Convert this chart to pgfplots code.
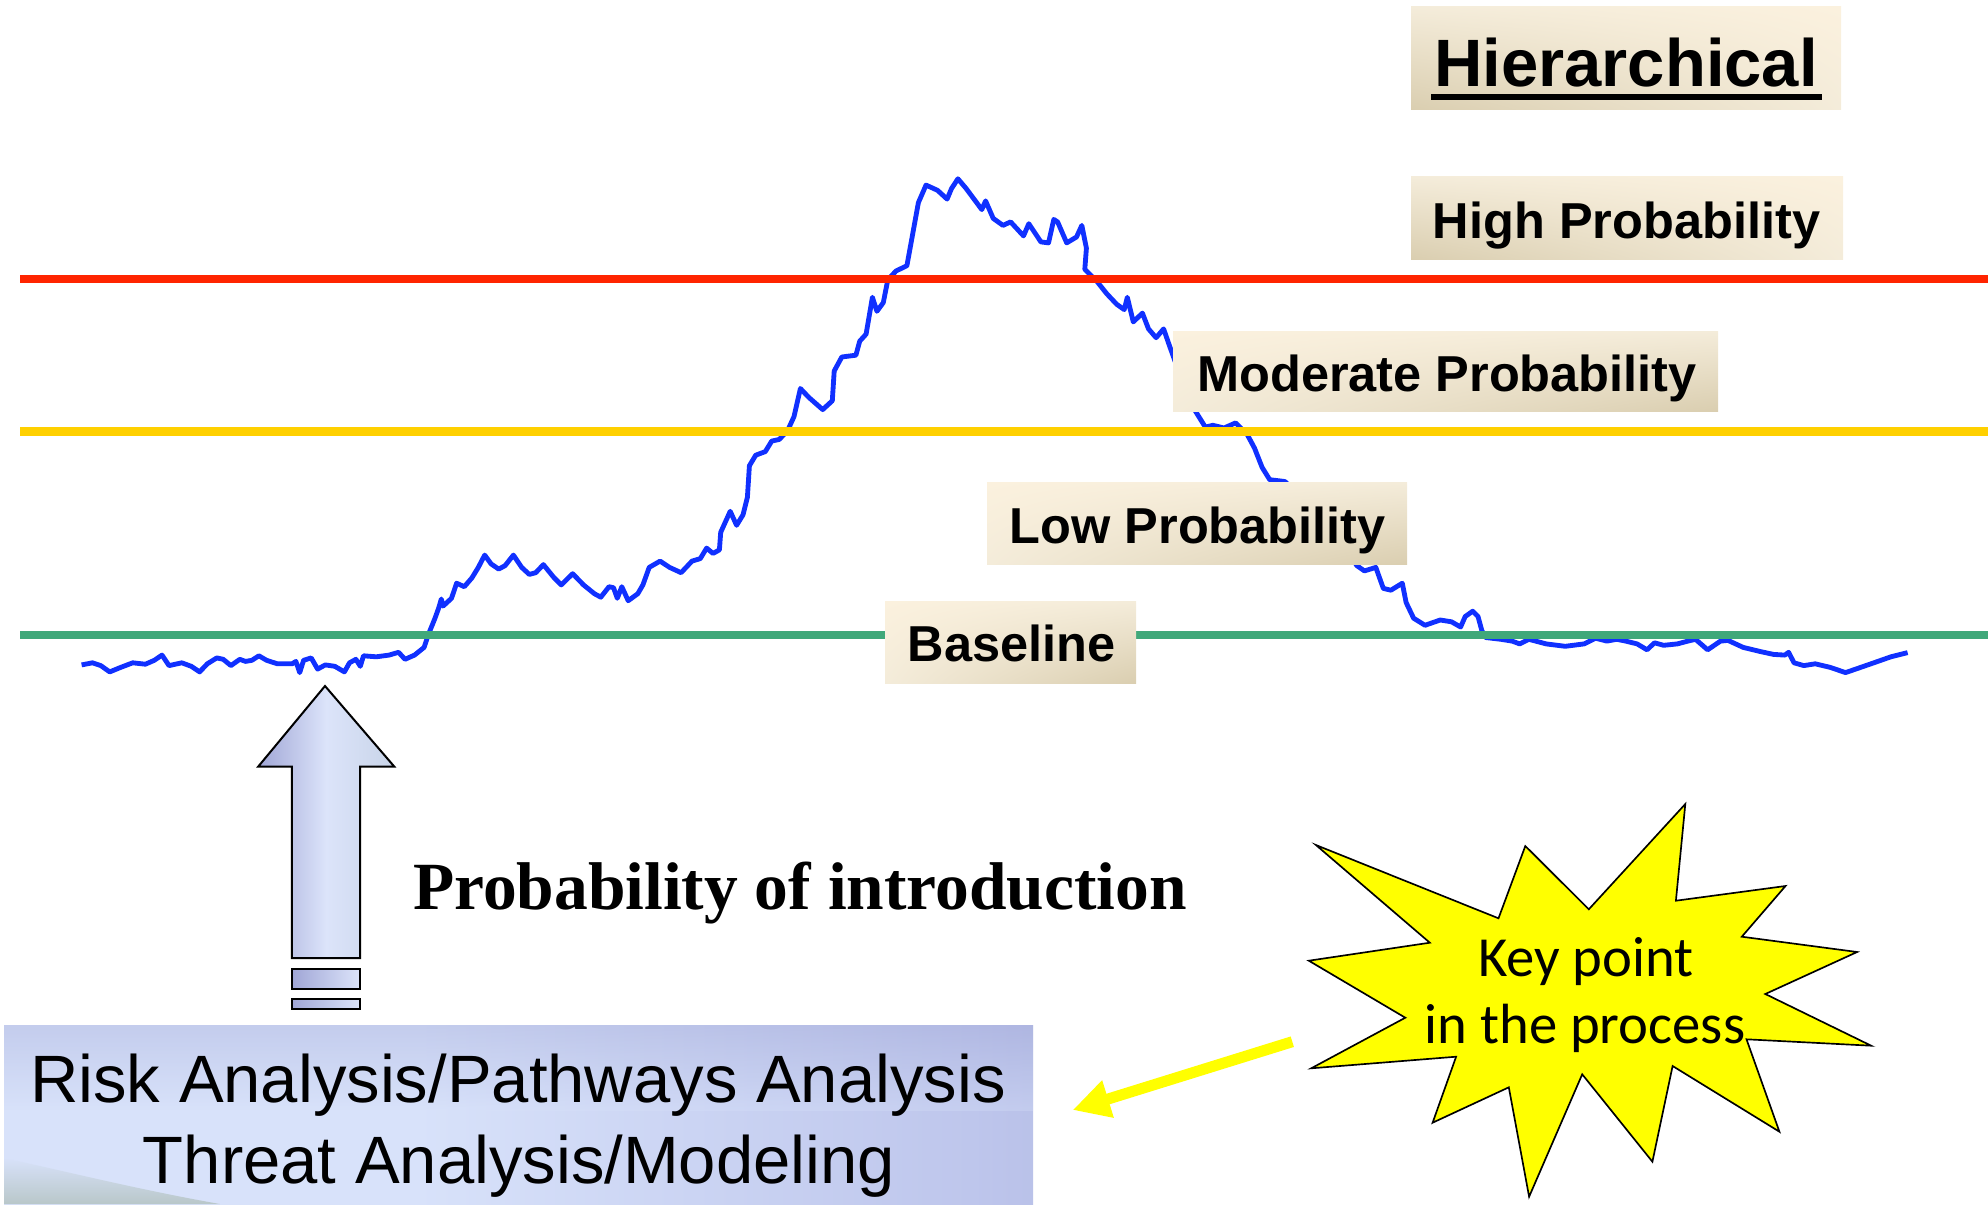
\documentclass[border=0pt]{standalone}
\usepackage{pgfplots}
\pgfplotsset{compat=1.18}
\usepackage{fontspec}
\setmainfont{Liberation Sans}
\newfontfamily\timesfont{Liberation Serif}
\newfontfamily\calibrifont{Carlito}
\usetikzlibrary{arrows.meta,shadings}

\definecolor{curveblue}{RGB}{16,48,255}
\definecolor{redline}{RGB}{255,36,0}
\definecolor{yellowline}{RGB}{255,208,0}
\definecolor{greenline}{RGB}{64,168,122}
\definecolor{burst}{RGB}{255,255,0}
\definecolor{arrowL}{RGB}{160,166,214}
\definecolor{arrowM}{RGB}{220,228,250}
\definecolor{arrowR}{RGB}{200,212,232}
\definecolor{creamL}{RGB}{251,241,222}
\definecolor{creamA}{RGB}{244,236,218}
\definecolor{creamD}{RGB}{218,206,176}
\definecolor{bbL}{RGB}{216,226,250}
\definecolor{bbM}{RGB}{190,198,236}
\definecolor{bbR}{RGB}{150,156,208}
\definecolor{bbG}{RGB}{160,178,162}

\pgfdeclarehorizontalshading{bbshade}{100bp}{color(0bp)=(bbL); color(45bp)=(bbL); color(72bp)=(bbM); color(100bp)=(bbR)}

\begin{document}
\begin{tikzpicture}
\begin{axis}[hide axis, scale only axis, width=596.4pt, height=361.2pt,
  xmin=0, xmax=1988, ymin=0, ymax=1204, y dir=reverse, clip=false]

% probability curve
\addplot[curveblue, line width=1.45pt, line join=round, mark=none] coordinates {
(81.6,664.9) (92.5,662.8) (100.8,665.6) (109.7,671.9) (119.9,667.7) (132.7,662.8) (145.4,664.2) (154.3,660.3) (162,655.1) (169,665.6) (181.8,662.8) (191.3,666.3) (199.6,671.9) (207.3,663.8) (216.8,657.9) (223.2,659.3) (230.9,665.6) (239.8,659.3) (245.5,661.4) (251.9,660.3) (258.9,655.8) (266.6,660.3) (277.4,663.8) (292.1,663.8) (295.9,661.4) (299.7,672.6) (303.6,660.3) (311.2,657.9) (317.6,669.1) (325.3,664.9) (334.8,666.3) (344.4,671.9) (349.5,662.8) (355.9,659.3) (360.3,666.3) (363.5,655.8) (376.3,656.8) (389,655.1) (398.6,652.3) (405,659.3) (414.5,655.1) (424.1,647.4) (428.6,634) (435,618.2) (438.8,607.7) (441.3,599) (443.2,606) (451.5,598.3) (456.6,583.2) (464.3,586.7) (471.9,577.9) (478.3,567.4) (484.7,555.1) (491.1,563.9) (498.7,569.1) (505.1,565.6) (513.4,555.1) (521.7,567.4) (529.3,574.4) (535.7,572.7) (543.4,564.6) (553.6,577.2) (561.2,584.9) (572.7,573.7) (583.5,584.9) (594.4,593.7) (600.8,597.2) (609,586.7) (613.5,587.7) (617.3,598.3) (621.8,586.7) (628.2,600.7) (637.8,593.7) (642.9,584.9) (649.2,567.4) (660.1,561.1) (669.6,567.4) (681.1,572.7) (692,561.1) (700.3,558.6) (706.6,548.1) (713,553.4) (719.4,549.9) (720.7,532.3) (730.2,511.3) (736.6,525.3) (743,514.8) (747.4,497.2) (749.4,465.7) (755.7,455.2) (765.3,451.6) (771.7,441.1) (779.3,439.4) (787.6,430.6) (794,416.6) (800.4,388.5) (808.7,397.3) (822.7,409.6) (832.3,400.8) (834.2,371) (841.8,357) (855.9,355.2) (859.7,341.2) (866.1,334.1) (872.4,297.3) (876.9,311.3) (883.3,302.6) (887.8,279.8) (896,271) (906.9,265.7) (912,237.7) (918.4,202.6) (926,185.1) (937.5,190.3) (947.1,199.1) (951.5,188.6) (957.9,178.8) (966.2,188.6) (981.8,209.6) (985.6,200.9) (993.2,218.4) (1003,225.4) (1010.6,221.9) (1023.5,235.9) (1028.8,223.7) (1040.9,241.9) (1048.5,242.9) (1053.8,219.4) (1057.6,221.9) (1066.7,242.9) (1076.5,237) (1081.8,225.4) (1086.4,248.2) (1084.8,269.3) (1097,281.5) (1106.8,293.8) (1116.7,304.3) (1124.2,309.6) (1127.3,297.3) (1133.3,321.9) (1142.4,313.1) (1148.5,328.9) (1156.1,337.7) (1163.6,328.9) (1169.7,346.4) (1180,375) (1190,398) (1195.5,411.3) (1205.3,427.1) (1212.9,425.3) (1224,428) (1235.6,422.9) (1247,434.1) (1254.5,448.1) (1262.1,467.4) (1269.7,479.7) (1284.8,481.5) (1300,495) (1320,515) (1340,540) (1356.8,565.6) (1364.4,570.9) (1375.8,567.4) (1383.3,588.4) (1390.9,590.2) (1402.3,583.2) (1406.1,602.5) (1413.6,618.2) (1425,625.3) (1440.2,620) (1451.5,621.8) (1460.6,627) (1465.2,616.5) (1472.7,611.2) (1478,616.5) (1481.8,630.5) (1485.6,637.5) (1500.8,639.3) (1512.1,641.1) (1519.7,643.9) (1528.8,639.3) (1546.2,643.9) (1565.2,646.3) (1584.1,643.9) (1595.5,638.2) (1606.8,641.1) (1616.7,639.3) (1625.8,641.1) (1637.1,643.9) (1647,649.8) (1654.5,642.8) (1663.6,645.3) (1677.3,643.9) (1687.9,641.1) (1695.5,639.3) (1707.6,649.8) (1720.5,641.1) (1728,640.4) (1743.2,647.4) (1760.6,651.6) (1773.5,654.4) (1784.8,655.1) (1788.6,652.3) (1794,662.8) (1803.8,665.6) (1815.2,663.8) (1830.3,667.4) (1845.5,672.6) (1860.6,667.4) (1875.8,662.1) (1890.9,656.8) (1907.6,652.6)
};

% threshold lines
\addplot[redline, line width=2.6pt, mark=none] coordinates {(20,279) (1988,279)};
\addplot[yellowline, line width=2.6pt, mark=none] coordinates {(20,431.5) (1988,431.5)};
\addplot[greenline, line width=2.5pt, mark=none] coordinates {(20,635.3) (1988,635.3)};

% label boxes
\shade[upper left=creamA, upper right=creamL, lower left=creamD, lower right=creamA] (axis cs:1411,7) rectangle (axis cs:1841,110);
\shade[upper left=creamA, upper right=creamL, lower left=creamD, lower right=creamA] (axis cs:1411,177) rectangle (axis cs:1843,259);
\shade[upper left=creamL, upper right=creamA, lower left=creamA, lower right=creamD] (axis cs:1173,331) rectangle (axis cs:1718,411);
\shade[upper left=creamL, upper right=creamA, lower left=creamA, lower right=creamD] (axis cs:987,482.5) rectangle (axis cs:1407,564.6);
\shade[upper left=creamL, upper right=creamA, lower left=creamA, lower right=creamD] (axis cs:885,601.4) rectangle (axis cs:1136,683.1);

\node[anchor=base, inner sep=0pt, font=\bfseries\fontsize{20.1}{24}\selectfont] at (axis cs:1626,87) {Hierarchical};
\draw[line width=1.8pt] (axis cs:1431,96.7) -- (axis cs:1822,96.7);
\node[anchor=base, inner sep=0pt, font=\bfseries\fontsize{15.15}{18}\selectfont] at (axis cs:1626.5,238.3) {High Probability};
\node[anchor=base, inner sep=0pt, font=\bfseries\fontsize{15.15}{18}\selectfont] at (axis cs:1447,391.3) {Moderate Probability};
\node[anchor=base, inner sep=0pt, font=\bfseries\fontsize{15.15}{18}\selectfont] at (axis cs:1197.7,543.5) {Low Probability};
\node[anchor=base, inner sep=0pt, font=\bfseries\fontsize{15.15}{18}\selectfont] at (axis cs:1011.4,661.4) {Baseline};

% big up arrow
\path[draw=black, line width=0.6pt, left color=arrowL, right color=arrowR, middle color=arrowM]
 (axis cs:325,686) -- (axis cs:394.3,766.6) -- (axis cs:360,766.6) -- (axis cs:360,958) -- (axis cs:291.8,958) -- (axis cs:291.8,766.6) -- (axis cs:258.2,766.6) -- cycle;
\path[draw=black, line width=0.6pt, left color=arrowL, right color=arrowM] (axis cs:291.8,968.5) rectangle (axis cs:360,988.5);
\path[draw=black, line width=0.6pt, left color=arrowL, right color=arrowM] (axis cs:291.8,998.5) rectangle (axis cs:360,1009);

\node[anchor=base, inner sep=0pt, font=\timesfont\bfseries\fontsize{20.25}{24}\selectfont] at (axis cs:800,909.7) {Probability of introduction};

% bottom box
\shade[shading=bbshade, shading angle=0] (axis cs:4,1025) rectangle (axis cs:1033,1204);
\shade[top color=bbR, bottom color=bbL, opacity=0.3] (axis cs:4,1025) rectangle (axis cs:1033,1110);
\shade[top color=bbL, bottom color=bbG, opacity=0.55] (axis cs:4,1158) .. controls (axis cs:60,1170) and (axis cs:140,1190) .. (axis cs:220,1204) -- (axis cs:4,1204) -- cycle;
\node[anchor=base, inner sep=0pt, font=\fontsize{20.1}{24}\selectfont] at (axis cs:518,1102.3) {Risk Analysis/Pathways Analysis};
\node[anchor=base, inner sep=0pt, font=\fontsize{20.1}{24}\selectfont] at (axis cs:519,1183.6) {Threat Analysis/Modeling};

% starburst
\path[draw=black, line width=0.5pt, fill=burst, line join=miter]
 (axis cs:1315.9,845) -- (axis cs:1498.5,918.3) -- (axis cs:1525.3,846) -- (axis cs:1588.8,909.3) -- (axis cs:1685.3,804) -- (axis cs:1675.9,900.7) -- (axis cs:1785.5,886) -- (axis cs:1741.8,936.7) -- (axis cs:1857.1,952) -- (axis cs:1765.3,994) -- (axis cs:1871.2,1045.7) -- (axis cs:1746.5,1039.3) -- (axis cs:1779.4,1131.7) -- (axis cs:1672.6,1066) -- (axis cs:1652.4,1161.7) -- (axis cs:1582.2,1074.3) -- (axis cs:1529.1,1196.7) -- (axis cs:1508.8,1087.3) -- (axis cs:1432.6,1122.7) -- (axis cs:1456.1,1056.7) -- (axis cs:1311.2,1068.3) -- (axis cs:1405.3,1017.7) -- (axis cs:1308.8,960.7) -- (axis cs:1429.8,942.7) -- cycle;
\node[anchor=base, inner sep=0pt, font=\calibrifont\fontsize{17}{20}\selectfont] at (axis cs:1586,976.7) {Key point};
\node[anchor=base, inner sep=0pt, font=\calibrifont\fontsize{17}{20}\selectfont] at (axis cs:1585,1043.3) {in the process};

% yellow pointer arrow
\draw[burst, line width=3.3pt, -{Triangle[length=11.1pt, width=11pt]}] (axis cs:1292.3,1041.7) -- (axis cs:1072.7,1110);
\end{axis}
\pgfresetboundingbox
\path[use as bounding box] (0,0) rectangle (596.4pt,361.2pt);
\end{tikzpicture}
\end{document}
